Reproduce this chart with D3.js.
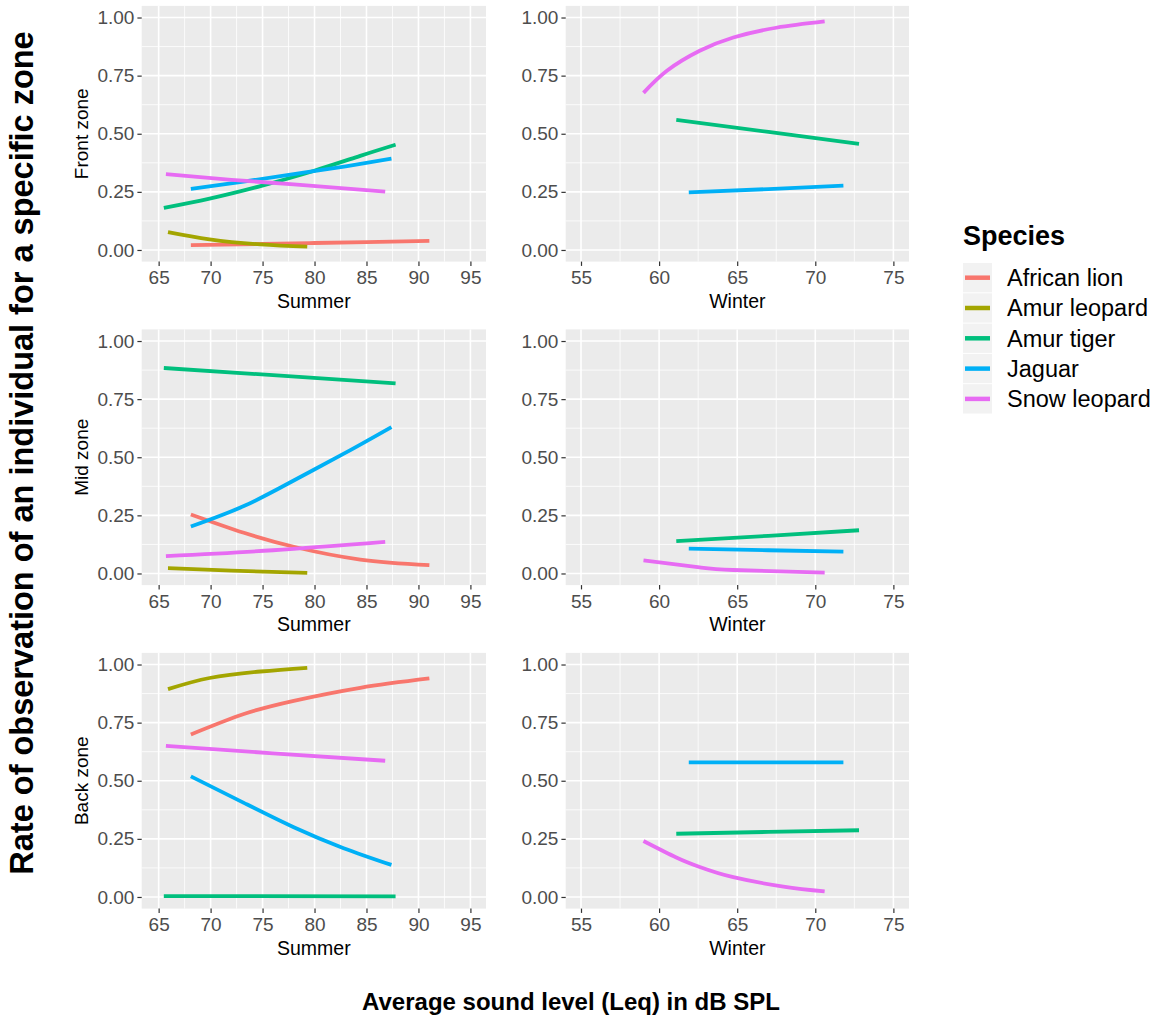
<!DOCTYPE html>
<html>
<head>
<meta charset="utf-8">
<script src="https://cdn.jsdelivr.net/npm/d3@7"></script>
<style>
  body { margin: 0; background: #fff; }
  text { font-family: "Liberation Sans", Arial, sans-serif; }
</style>
</head>
<body>
<div id="chart"></div>
<script>
// species and their ggplot hue colours
let species = ["African lion", "Amur leopard", "Amur tiger", "Jaguar", "Snow leopard"];
let speciesColors = ["#F8766D", "#A3A500", "#00BF7D", "#00B0F6", "#E76BF3"];

let rowLabels = ["Front zone", "Mid zone", "Back zone"];
let colLabels = ["Summer", "Winter"];
let summerTicks = [65, 70, 75, 80, 85, 90, 95];
let winterTicks = [55, 60, 65, 70, 75];
let yTicks = [0, 0.25, 0.5, 0.75, 1];

// fitted curves: [species, [[dB, rate], ...]]
let frontSummer = [
    ["African lion", [[68.1, 0.021], [75, 0.026], [80, 0.030], [85, 0.034], [91.05, 0.039]]],
    ["Amur leopard", [[65.9, 0.077], [69.9, 0.046], [74.8, 0.024], [79.3, 0.014]]],
    ["Amur tiger", [[65.5, 0.181], [69.9, 0.221], [74.8, 0.275], [79.9, 0.340], [84.4, 0.405], [87.8, 0.453]]],
    ["Jaguar", [[68.1, 0.263], [73, 0.293], [78, 0.326], [83, 0.360], [87.4, 0.393]]],
    ["Snow leopard", [[65.7, 0.326], [72, 0.302], [78, 0.282], [86.8, 0.251]]]
];
let midSummer = [
    ["African lion", [[68.1, 0.254], [73.2, 0.175], [78, 0.115], [84.4, 0.060], [91.05, 0.036]]],
    ["Amur leopard", [[65.9, 0.023], [72, 0.012], [79.3, 0.003]]],
    ["Amur tiger", [[65.5, 0.884], [76, 0.853], [87.8, 0.818]]],
    ["Jaguar", [[68.1, 0.202], [73.2, 0.290], [78, 0.400], [83, 0.520], [87.4, 0.630]]],
    ["Snow leopard", [[65.7, 0.075], [76, 0.100], [86.8, 0.136]]]
];
let backSummer = [
    ["African lion", [[68.1, 0.699], [73.2, 0.787], [78, 0.844], [84.4, 0.900], [91.05, 0.940]]],
    ["Amur leopard", [[65.9, 0.894], [69.9, 0.942], [74.8, 0.970], [79.3, 0.986]]],
    ["Amur tiger", [[65.5, 0.004], [87.8, 0.003]]],
    ["Jaguar", [[68.1, 0.519], [73.2, 0.405], [78, 0.300], [82.8, 0.210], [87.4, 0.138]]],
    ["Snow leopard", [[65.7, 0.650], [76, 0.618], [86.8, 0.586]]]
];
let frontWinter = [
    ["Amur tiger", [[61.1, 0.560], [67, 0.508], [72.8, 0.456]]],
    ["Jaguar", [[61.9, 0.248], [67, 0.262], [71.8, 0.277]]],
    ["Snow leopard", [[59.0, 0.676], [60.5, 0.771], [62.6, 0.857], [64.75, 0.914], [67.5, 0.956], [70.6, 0.983]]]
];
let midWinter = [
    ["Amur tiger", [[61.1, 0.139], [67, 0.162], [72.8, 0.186]]],
    ["Jaguar", [[61.9, 0.107], [67, 0.100], [71.8, 0.094]]],
    ["Snow leopard", [[59.0, 0.056], [62.6, 0.026], [64.75, 0.015], [70.6, 0.004]]]
];
let backWinter = [
    ["Amur tiger", [[61.1, 0.272], [67, 0.280], [72.8, 0.287]]],
    ["Jaguar", [[61.9, 0.579], [71.8, 0.579]]],
    ["Snow leopard", [[59.0, 0.241], [61.1, 0.170], [62.6, 0.129], [64.75, 0.085], [67.96, 0.045], [70.6, 0.024]]]
];

let width = 1163, height = 1022;
let svg = d3.select("#chart").append("svg")
    .attr("width", width)
    .attr("height", height);

let color = d3.scaleOrdinal().domain(species).range(speciesColors);

let colX = [[141.7, 486], [565.7, 909]];
let rowTop = [5.9, 329.4, 652.9];
let panelH = 255.7;
let xDomains = [[63.37, 96.5], [54.02, 76.0]];
let xTicksFor = [summerTicks, winterTicks];
let xMinorFor = [[67.5, 72.5, 77.5, 82.5, 87.5, 92.5], [57.5, 62.5, 67.5, 72.5]];
let panels = [[frontSummer, frontWinter], [midSummer, midWinter], [backSummer, backWinter]];

function drawPanel(r, c) {
    let x = d3.scaleLinear().domain(xDomains[c]).range(colX[c]);
    let y = d3.scaleLinear().domain([-0.05, 1.05]).range([rowTop[r] + panelH, rowTop[r]]);
    let g = svg.append("g");

    g.append("rect")
        .attr("x", colX[c][0]).attr("y", rowTop[r])
        .attr("width", colX[c][1] - colX[c][0]).attr("height", panelH)
        .attr("fill", "#EBEBEB");

    // minor grid
    g.selectAll(".ymin").data([0.125, 0.375, 0.625, 0.875]).enter().append("line")
        .attr("x1", colX[c][0]).attr("x2", colX[c][1])
        .attr("y1", d => y(d)).attr("y2", d => y(d))
        .attr("stroke", "#fff").attr("stroke-width", 0.8);
    g.selectAll(".xmin").data(xMinorFor[c]).enter().append("line")
        .attr("y1", rowTop[r]).attr("y2", rowTop[r] + panelH)
        .attr("x1", d => x(d)).attr("x2", d => x(d))
        .attr("stroke", "#fff").attr("stroke-width", 0.8);
    // major grid
    g.selectAll(".ymaj").data(yTicks).enter().append("line")
        .attr("x1", colX[c][0]).attr("x2", colX[c][1])
        .attr("y1", d => y(d)).attr("y2", d => y(d))
        .attr("stroke", "#fff").attr("stroke-width", 1.6);
    g.selectAll(".xmaj").data(xTicksFor[c]).enter().append("line")
        .attr("y1", rowTop[r]).attr("y2", rowTop[r] + panelH)
        .attr("x1", d => x(d)).attr("x2", d => x(d))
        .attr("stroke", "#fff").attr("stroke-width", 1.6);

    // axes
    let xAxis = d3.axisBottom(x).tickValues(xTicksFor[c]).tickSize(4.3).tickPadding(5).tickFormat(d3.format("d"));
    let xg = g.append("g")
        .attr("transform", "translate(0," + (rowTop[r] + panelH) + ")")
        .call(xAxis);
    let yAxis = d3.axisLeft(y).tickValues(yTicks).tickSize(4.3).tickPadding(3).tickFormat(d3.format(".2f"));
    let yg = g.append("g")
        .attr("transform", "translate(" + colX[c][0] + ",0)")
        .call(yAxis);
    [xg, yg].forEach(a => {
        a.select(".domain").remove();
        a.selectAll(".tick line").attr("stroke", "#333333").attr("stroke-width", 1.2);
        a.selectAll(".tick text")
            .attr("fill", "#4D4D4D")
            .style("font-size", "19px")
            .style("font-family", "'Liberation Sans', Arial, sans-serif");
    });

    // x axis title
    g.append("text")
        .attr("x", (colX[c][0] + colX[c][1]) / 2)
        .attr("y", rowTop[r] + panelH + 46)
        .attr("text-anchor", "middle")
        .attr("font-size", 19.5)
        .attr("fill", "#000")
        .text(colLabels[c]);

    // row label on the left column
    if (c == 0) {
        g.append("text")
            .attr("transform", "translate(88," + (rowTop[r] + panelH / 2) + ") rotate(-90)")
            .attr("text-anchor", "middle")
            .attr("font-size", 19)
            .attr("fill", "#000")
            .text(rowLabels[r]);
    }

    // fitted lines
    let line = d3.line()
        .x(d => x(d[0]))
        .y(d => y(d[1]))
        .curve(d3.curveNatural);
    g.selectAll(".fit").data(panels[r][c]).enter().append("path")
        .attr("d", d => line(d[1]))
        .attr("fill", "none")
        .attr("stroke", d => color(d[0]))
        .attr("stroke-width", 3.8)
        .attr("stroke-linecap", "butt");
}

for (let r = 0; r < 3; r++) {
    for (let c = 0; c < 2; c++) {
        drawPanel(r, c);
    }
}

// big axis titles
svg.append("text")
    .attr("transform", "translate(33,453) rotate(-90)")
    .attr("text-anchor", "middle")
    .attr("font-size", 32.5)
    .attr("font-weight", "bold")
    .attr("fill", "#000")
    .text("Rate of observation of an individual for a specific zone");

svg.append("text")
    .attr("x", 571)
    .attr("y", 1010)
    .attr("text-anchor", "middle")
    .attr("font-size", 24)
    .attr("font-weight", "bold")
    .attr("fill", "#000")
    .text("Average sound level (Leq) in dB SPL");

// legend
let legend = svg.append("g");
legend.append("text")
    .attr("x", 963).attr("y", 245)
    .attr("font-size", 27)
    .attr("font-weight", "bold")
    .text("Species");

let items = legend.selectAll(".item").data(species).enter().append("g")
    .attr("transform", (d, i) => "translate(963," + (263 + i * 30.3) + ")");
items.append("rect")
    .attr("width", 29).attr("height", 29.3)
    .attr("fill", "#F2F2F2");
items.append("line")
    .attr("x1", 2).attr("x2", 27)
    .attr("y1", 14.7).attr("y2", 14.7)
    .attr("stroke", d => color(d))
    .attr("stroke-width", 4.5);
items.append("text")
    .attr("x", 44).attr("y", 23)
    .attr("font-size", 23.5)
    .attr("fill", "#000")
    .text(d => d);
</script>
</body>
</html>
